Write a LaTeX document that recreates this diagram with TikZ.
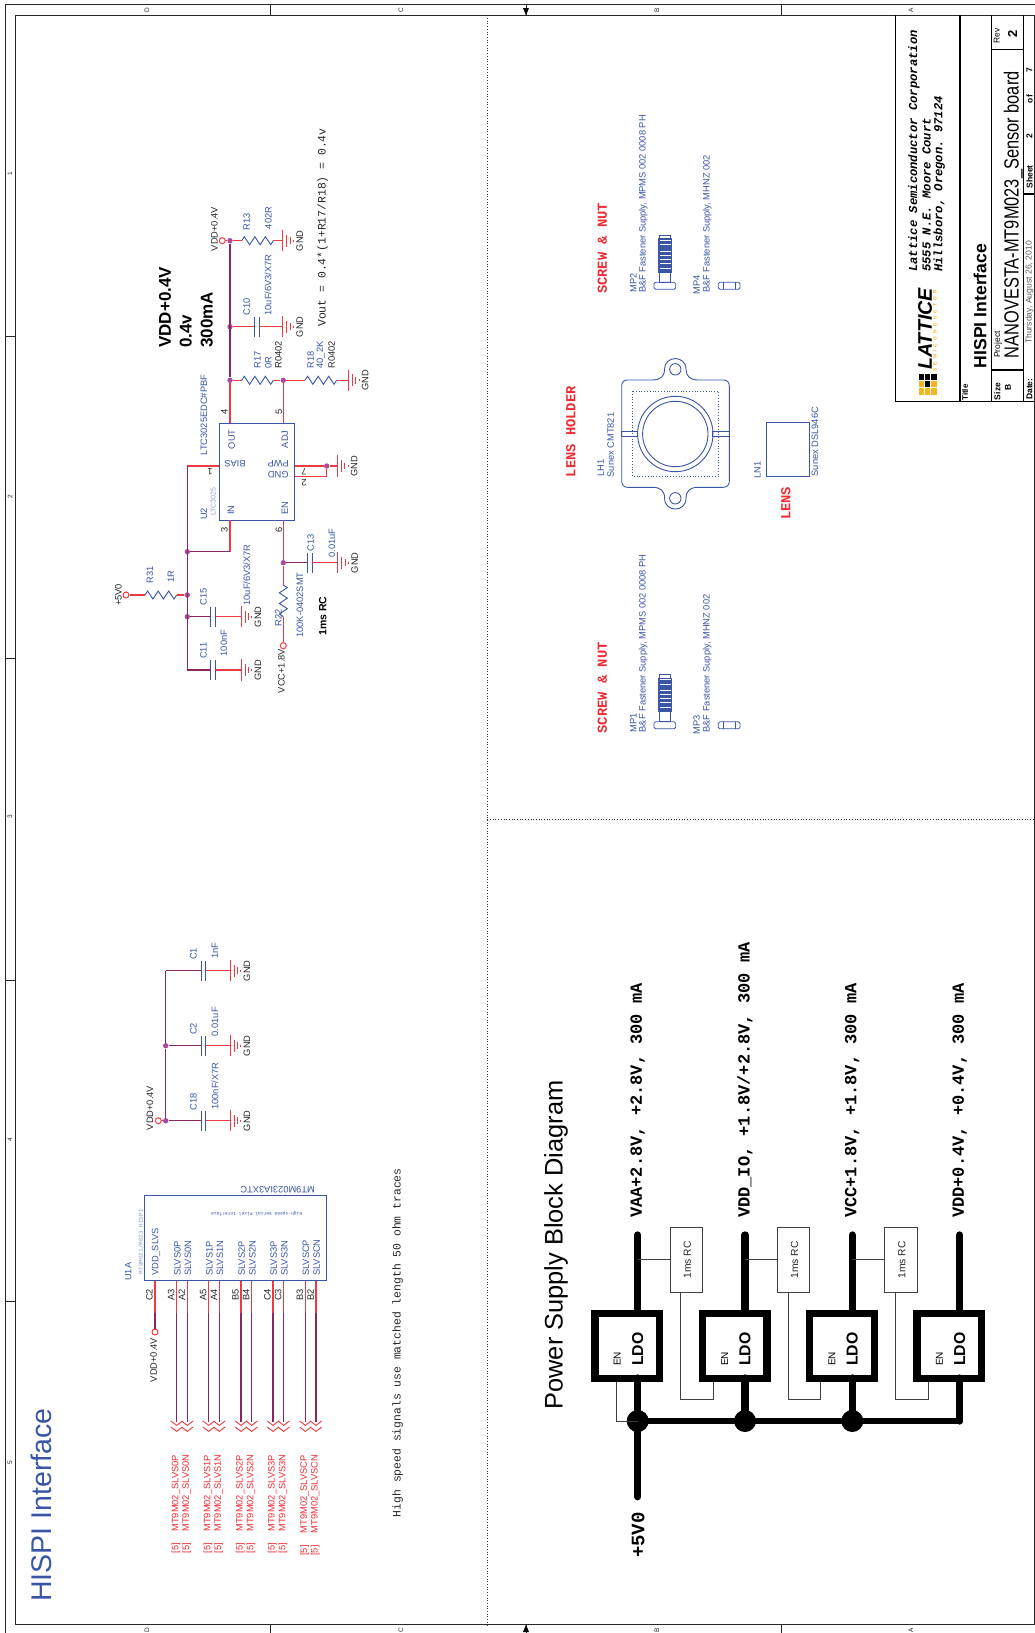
\documentclass[tikz,border=0pt]{standalone}
\usepackage{xcolor}
\usepackage{fontspec}
\usepackage{tikz}
\usetikzlibrary{shapes,arrows,positioning}
\setmainfont{Liberation Sans}
\setmonofont{Liberation Mono}
\newcommand{\fsz}[1]{\fontsize{#1}{#1}\selectfont}
\definecolor{compblue}{HTML}{3A55A5}
\definecolor{wirered}{HTML}{EE3A43}
\definecolor{buspurple}{HTML}{86275F}
\definecolor{dotpurple}{HTML}{AC4A9B}
\definecolor{textred}{HTML}{EE2A32}
\definecolor{lightblue}{HTML}{8F9FCF}
\definecolor{logoyellow}{HTML}{F6B51E}

\begin{document}
\begin{tikzpicture}[x=1pt, y=-1pt, >=stealth]
    % Define styles
    \tikzstyle{lbl} = [rotate=90, inner sep=0pt, text=black!85, font=\fsz{9.3}]
    \tikzstyle{bluelbl} = [lbl, text=compblue]
    \tikzstyle{flipped} = [rotate=180, inner sep=0pt, text=compblue, font=\fsz{9.3}]
    \tikzstyle{redlbl} = [lbl, text=textred]
    \tikzstyle{note} = [lbl, font=\ttfamily\fsz{11.4}]
    \tikzstyle{rednote} = [lbl, text=textred, font=\ttfamily\bfseries\fsz{13.8}]
    \tikzstyle{rail} = [lbl, text=black, font=\ttfamily\bfseries\fsz{17}]
    \tikzstyle{wire} = [draw=wirered, line width=1.1pt]
    \tikzstyle{bus} = [draw=buspurple, line width=1.2pt]
    \tikzstyle{part} = [draw=compblue, line width=1pt]
    \tikzstyle{junc} = [circle, fill=dotpurple, minimum size=5.4pt, inner sep=0pt]
    \tikzstyle{port} = [circle, draw=wirered, line width=1pt, fill=white, minimum size=6pt, inner sep=0pt]
    \tikzstyle{compbox} = [rectangle, draw=compblue, line width=1pt, inner sep=0pt]
    \tikzstyle{frameline} = [draw=black!85, line width=1pt]
    \tikzstyle{blockline} = [draw=black, line width=1.2pt]
    \tikzstyle{address} = [lbl, anchor=west, text=black, font=\ttfamily\bfseries\itshape\fsz{12.2}]
    \tikzstyle{ldobox} = [rectangle, draw, line width=7.3pt, minimum size=64.7pt, inner sep=0pt]
    \tikzstyle{rcbox} = [rectangle, draw=black!75, line width=0.8pt, minimum width=32.3pt, minimum height=65pt, inner sep=0pt]
    \tikzstyle{thick rail} = [draw, line width=7.3pt, line cap=round]
    \tikzstyle{signal} = [draw=black!75, line width=0.8pt]
    \tikzstyle{bigdot} = [circle, fill, minimum size=22pt, inner sep=0pt]
    \tikzset{
        gndsym/.pic={
            \coordinate (-a) at (0,0);
            \draw [draw=wirered, line width=1pt] (0,-10.7) -- (0,10.7) (4,-6) -- (4,6) (7.3,-3.3) -- (7.3,3.3) (10.7,-1) -- (10.7,1);
            \node [lbl] (-txt) at (16.9,0) {GND};
        },
        capsym/.pic={
            \coordinate (-a) at (0,0);
            \coordinate (-b) at (4.8,0);
            \draw [part] (0,-10) -- (0,10) (4.8,-10) -- (4.8,10);
        },
        ressym/.pic={
            \coordinate (-a) at (0,0);
            \coordinate (-b) at (31.6,0);
            \draw [draw=compblue, line width=0.9pt] (0,0) -- (2.6,-4) -- (7.9,4) -- (13.2,-4) -- (18.4,4) -- (23.7,-4) -- (29,4) -- (31.6,0);
        },
        chevron/.pic={
            \draw [draw=wirered, line width=0.9pt] (-5.7,0) -- (0,4.4) -- (5.7,0) (-5.7,6) -- (0,10.4) -- (5.7,6);
        }
    }

    % Frame
    \useasboundingbox (0,0) rectangle (1035,1633);
    \draw [frameline] (5,1633) -- (5,4.7) -- (1035,4.7);
    \draw [frameline] (15.5,1624.7) -- (15.5,15.3) -- (1034.3,15.3) -- (1034.3,1624.7) -- cycle;
    \foreach \tx in {270.5,526,781} {
        \draw [frameline] (\tx,4.7) -- (\tx,15.3);
        \draw [frameline] (\tx,1624.7) -- (\tx,1633);
    }
    \foreach \ty in {336,658,980,1301}
        \draw [frameline] (5,\ty) -- (15.5,\ty);
    \fill (526,15.3) -- (523,8) -- (529,8) -- cycle;
    \fill (526,1624.7) -- (523,1632) -- (529,1632) -- cycle;
    \foreach \tx/\tl in {147/D,401/C,657/B,911/A} {
        \node [lbl, font=\fsz{6.5}] (top\tl) at (\tx,10) {\tl};
        \node [lbl, font=\fsz{6.5}] (bot\tl) at (\tx,1630) {\tl};
    }
    \foreach \ty/\tl in {174/1,497/2,817/3,1140/4,1463/5}
        \node [lbl, font=\fsz{6.5}] (side\tl) at (10,\ty) {\tl};
    \draw [draw=black!80, dotted, line width=0.7pt] (487.3,15.3) -- (487.3,1624.7);
    \draw [draw=black!80, dotted, line width=0.7pt] (487.3,819.5) -- (1034.3,819.5);

    % Title block
    \draw [blockline] (895.7,15.3) -- (895.7,401.5) -- (1034.3,401.5);
    \draw [blockline] (960,15.3) -- (960,401.5);
    \draw [blockline] (991.7,15.3) -- (991.7,401.5);
    \draw [blockline] (1023.5,15.3) -- (1023.5,401.5);
    \draw [blockline] (991.7,49.4) -- (1023.5,49.4);
    \draw [blockline] (991.7,370) -- (1023.5,370);
    \draw [blockline] (1023.5,194) -- (1034.3,194);
    \foreach \cx/\cy/\cc in {0/0/black,1/0/black,2/0/black,0/1/logoyellow,1/1/black,2/1/logoyellow,0/2/logoyellow,1/2/logoyellow,2/2/logoyellow}
        \fill [\cc] (919+6.2*\cx,373.5+7.4*\cy) rectangle +(5.2,6.4);
    \node [lbl, anchor=west, text=black, font=\bfseries\itshape\fsz{19.7}] (logoname) at (925,370) {LATTICE};
    \node [lbl, anchor=west, text=logoyellow, font=\bfseries\fsz{4.8}\addfontfeatures{LetterSpace=68}] (logosub) at (935,372) {SEMICONDUCTOR};
    \node [address] (addr1) at (914,272) {Lattice Semiconductor Corporation};
    \node [address] (addr2) at (926.7,272) {5555 N.E. Moore Court};
    \node [address] (addr3) at (939.3,272) {Hillsboro, Oregon. 97124};
    \node [lbl, text=black, font=\bfseries\fsz{8}] (titlehd) at (965,392.5) {Title};
    \node [lbl, anchor=west, text=black, font=\bfseries\fsz{17.6}] (titletxt) at (980,368.3) {HISPI Interface};
    \node [lbl, text=black, font=\bfseries\fsz{8.5}] (sizehd) at (997.3,391.5) {Size};
    \node [lbl, text=black, font=\bfseries\fsz{8.5}] (sizeval) at (1008,387) {B};
    \node [lbl, anchor=west, text=black, font=\fsz{8.5}] (projhd) at (998,358) {Project};
    \node [lbl, anchor=west, text=black, xscale=0.8, font=\fsz{20.5}] (projtxt) at (1013.3,358.3) {NANOVESTA-MT9M023\_Sensor board};
    \node [lbl, text=black, font=\fsz{8.5}] (revhd) at (996.7,36) {Rev};
    \node [lbl, text=black, font=\bfseries\fsz{13}] (revval) at (1012.5,34) {2};
    \node [lbl, anchor=west, text=black, font=\bfseries\fsz{8.5}] (datehd) at (1029.5,400) {Date:};
    \node [lbl, text=black!65, font=\fsz{8.6}] (datetxt) at (1029.5,292.5) {Thursday, August 26, 2010};
    \node [lbl, text=black, font=\bfseries\fsz{8.5}] (sheethd) at (1029.5,177) {Sheet};
    \node [lbl, text=black, font=\bfseries\fsz{8.5}] (sheetnum) at (1029.5,136) {2};
    \node [lbl, text=black, font=\bfseries\fsz{8.5}] (sheetof) at (1029.5,99) {of};
    \node [lbl, text=black, font=\bfseries\fsz{8.5}] (sheetmax) at (1029.5,70) {7};

    % Headings
    \node [lbl, text=compblue, font=\fsz{28.5}] (sheettitle) at (41.6,1505) {HISPI Interface};
    \node [lbl, text=black, font=\fsz{25.4}] (blocktitle) at (556,1245) {Power Supply Block Diagram};
    \node [note] (voutnote) at (322.7,227.5) {Vout = 0.4*(1+R17/R18) = 0.4v};
    \node [note] (tracenote) at (397.7,1342.7) {High speed signals use matched length 50 ohm traces};
    \node [lbl, anchor=west, text=black, font=\bfseries\fsz{17}] (railname) at (165,348) {VDD+0.4V};
    \node [lbl, anchor=west, text=black, font=\bfseries\fsz{17}] (railvolt) at (185.7,348) {0.4v};
    \node [lbl, anchor=west, text=black, font=\bfseries\fsz{17}] (railamp) at (206.7,348) {300mA};
    \node [lbl, text=black, font=\bfseries\fsz{10.5}] (rcnote) at (322.7,616) {1ms RC};

    % U2 regulator
    \node [compbox, minimum width=75.4pt, minimum height=96.7pt] (u2) at (257,471.7) {};
    \coordinate (u2out) at (230,423.3);
    \coordinate (u2adj) at (283.3,423.3);
    \coordinate (u2in) at (230,520);
    \coordinate (u2en) at (283.3,520);
    \coordinate (u2bias) at (219.3,466);
    \coordinate (u2pwp) at (294.7,466);
    \coordinate (u2gnd) at (294.7,476.7);
    \coordinate (biasbus) at (187.3,466);
    \coordinate (c11bus) at (187.3,670);
    \coordinate (incorner) at (230,551.7);
    \coordinate (gndcorner) at (326.7,476.7);
    \node [junc] (vddj) at (230,240.7) {};
    \node [junc] (c10j) at (230,326.7) {};
    \node [junc] (r17j) at (230,380.3) {};
    \node [junc] (adjj) at (283.3,380.3) {};
    \node [junc] (pwpj) at (326.7,466) {};
    \node [junc] (inj) at (187.3,551.7) {};
    \node [junc] (r31j) at (187.3,595) {};
    \node [junc] (c15j) at (187.3,616.7) {};
    \node [junc] (enj) at (283.3,562.7) {};
    \node [port] (vddport) at (222.3,240.7) {};
    \node [port] (v5port) at (126,595) {};
    \node [port] (vccport) at (283.3,645.7) {};

    \pic (r13) at (241.7,240.7) {ressym};
    \pic (g13) at (282.7,240.7) {gndsym};
    \pic (c10) at (254.3,326.7) {capsym};
    \pic (g10) at (282.7,326.7) {gndsym};
    \pic (r17) at (241.7,380.3) {ressym};
    \pic (r18) at (305,380.3) {ressym};
    \pic (g18) at (348.3,380.3) {gndsym};
    \pic (g2) at (337.3,466) {gndsym};
    \pic (r31) at (145,595) {ressym};
    \pic (c15) at (210.7,616.7) {capsym};
    \pic (g15) at (241,616.7) {gndsym};
    \pic (c11) at (210.7,670) {capsym};
    \pic (g11) at (241,670) {gndsym};
    \pic (c13) at (307.5,562.7) {capsym};
    \pic (g13b) at (337.7,562.7) {gndsym};
    \pic [rotate=-90] (r22) at (283.3,585) {ressym};

    % Wires
    \draw [wire] (vddport) -- (vddj) -- (r13-a);
    \draw [wire] (r13-b) -- (g13-a);
    \draw [wire] (c10j) -- (c10-a);
    \draw [wire] (c10-b) -- (g10-a);
    \draw [wire] (r17j) -- (r17-a);
    \draw [wire] (r17-b) -- (adjj) -- (r18-a);
    \draw [wire] (r18-b) -- (g18-a);
    \draw [wire] (r17j) -- (u2out);
    \draw [wire] (adjj) -- (u2adj);
    \draw [bus] (vddj) -- (r17j);
    \draw [wire] (u2bias) -- (biasbus);
    \draw [bus] (biasbus) -- (c11bus);
    \draw [wire] (u2in) -- (incorner);
    \draw [bus] (incorner) -- (inj);
    \draw [wire] (u2pwp) -- (pwpj) -- (g2-a);
    \draw [wire] (u2gnd) -- (gndcorner) -- (pwpj);
    \draw [wire] (v5port) -- (r31-a);
    \draw [wire] (r31-b) -- (r31j);
    \draw [bus] (c15j) -- (c15-a);
    \draw [wire] (c15-b) -- (g15-a);
    \draw [bus] (c11bus) -- (c11-a);
    \draw [wire] (c11-b) -- (g11-a);
    \draw [wire] (u2en) -- (enj) -- (r22-a);
    \draw [bus] (enj) -- (c13-a);
    \draw [wire] (c13-b) -- (g13b-a);
    \draw [wire] (r22-b) -- (vccport);

    % U2 labels
    \foreach \lx/\ly/\lt/\ln in {246.7/221.7/R13/n1,268.3/218/402R/n2,246.7/306.7/C10/n3,268/285/10uF{/}6V3{/}X7R/n4,257.3/360/R17/n5,268.3/363/0R/n6,310.7/360/R18/n7,320.7/355/40\_2K/n8,204/514/U2/n9,204/415/LTC3025EDC\#PBF/n10,231.7/439.3/OUT/n11,231/510/IN/n12,285/439.3/ADJ/n13,285/508/EN/n14,150/575/R31/n15,171/576.7/1R/n16,203.3/596.7/C15/n17,246.7/575/10uF{/}6V3{/}X7R/n18,203.3/650.7/C11/n19,224/643/100nF/n20,310.7/543/C13/n21,332/543/0.01uF/n22,300/605/100K-0402SMT/n23,278.3/618/R22/n24}
        \node [bluelbl] (\ln) at (\lx,\ly) {\lt};
    \foreach \lx/\ly/\lt/\ln in {278.3/355/R0402/m1,331.7/355/R0402/m2,224.3/411.7/4/m3,279/411.7/5/m4,224.3/530/3/m5,279/530/6/m6,214.3/229/VDD+0.4V/m7,118.3/595/+5V0/m8,281.5/671/VCC+1.8V/m9}
        \node [lbl] (\ln) at (\lx,\ly) {\lt};
    \node [lbl, text=lightblue, font=\fsz{7}] (u2part) at (213.3,501.7) {LTC3025};
    \node [flipped] (biaspin) at (235,464) {BIAS};
    \node [flipped] (pwppin) at (278.3,464) {PWP};
    \node [flipped] (gndpin) at (278.3,475) {GND};
    \node [flipped, text=black!85] (pin1) at (210,471.7) {1};
    \node [flipped, text=black!85] (pin7) at (304,471.7) {7};
    \node [flipped, text=black!85] (pin2) at (304,483) {2};

    % VDD decoupling
    \node [port] (cport) at (158.3,1120.7) {};
    \coordinate (c1bus) at (165.7,970.7);
    \node [junc] (c2j) at (165.7,1045.7) {};
    \node [junc] (c18j) at (165.7,1120.7) {};
    \draw [bus] (c1bus) -- (c2j) -- (c18j);
    \draw [wire] (cport) -- (c18j);
    \node [lbl] (cportname) at (150,1108) {VDD+0.4V};
    \foreach \cn/\cy/\cbus/\cv/\cly/\cvy in {c1/970.7/c1bus/1nF/954/950.7,c2/1045.7/c2j/0.01uF/1029/1021.7,c18/1120.7/c18j/100nF{/}X7R/1101.7/1086} {
        \pic (\cn) at (201,\cy) {capsym};
        \pic (gnd\cn) at (230,\cy) {gndsym};
        \draw [bus] (\cbus) -- (\cn-a);
        \draw [wire] (\cn-b) -- (gnd\cn-a);
        \node [bluelbl] (\cn name) at (193.3,\cly) {\MakeUppercase{\cn}};
        \node [bluelbl] (\cn val) at (215,\cvy) {\cv};
    }

    % U1A sensor
    \node [compbox, minimum width=182.4pt, minimum height=85.3pt] (u1) at (235.5,1238.3) {};
    \node [flipped] (u1part) at (277.7,1190) {MT9M023IA3XTC};
    \node [lbl, text=lightblue, font=\ttfamily\fsz{6}] (u1lib) at (140.7,1241.7) {MT9M021/M023 HISPI};
    \node [flipped, font=\ttfamily\fsz{4.6}] (u1desc) at (256.7,1214) {High-speed Serial Pixel Interface};
    \node [bluelbl] (u1ref) at (128.3,1271.7) {U1A};
    \coordinate (vslvs) at (155,1281);
    \coordinate (vslvsb) at (155,1313);
    \node [port] (vslvsport) at (155,1332) {};
    \draw [wire] (vslvs) -- (vslvsb);
    \draw [bus] (vslvsb) -- (vslvsport);
    \node [bluelbl, anchor=west] (vslvsname) at (156,1276) {VDD\_SLVS};
    \node [lbl] (vslvspin) at (149.5,1295) {C2};
    \node [lbl] (vslvsnet) at (153.7,1360) {VDD+0.4V};
    \foreach \px/\pnum/\pname/\nb/\bb in {176.7/A3/SLVS0P/1531.7/1548,187.3/A2/SLVS0N/1531.7/1548,208.7/A5/SLVS1P/1531.7/1548,219.3/A4/SLVS1N/1531.7/1548,241/B5/SLVS2P/1531.7/1548,251.7/B4/SLVS2N/1531.7/1548,273/C4/SLVS3P/1531.7/1548,283.7/C3/SLVS3N/1531.7/1548,305.3/B3/SLVSCP/1533.5/1550.5,316/B2/SLVSCN/1533.5/1550.5} {
        \coordinate (\pname a) at (\px,1281);
        \coordinate (\pname b) at (\px,1313);
        \coordinate (\pname c) at (\px,1421.7);
        \draw [wire] (\pname a) -- (\pname b);
        \draw [bus] (\pname b) -- (\pname c);
        \pic at (\px,1421) {chevron};
        \node [bluelbl, anchor=west] (\pname t) at (\px+0.7,1276) {\pname};
        \node [lbl] (\pname n) at (\px-5.5,1295) {\pnum};
        \node [redlbl, anchor=west] (\pname x) at (\px-0.7,\nb) {MT9M02\_\pname};
        \node [redlbl] (\pname s) at (\px-0.7,\bb) {[5]};
    }

    % Power supply block diagram
    \foreach \k/\lx/\px/\txt in {1/627.3/637.7/{VAA+2.8V, +2.8V, 300 mA},2/734.7/745/{VDD\_IO, +1.8V/+2.8V, 300 mA},3/842/852.3/{VCC+1.8V, +1.8V, 300 mA},4/949.3/959.7/{VDD+0.4V, +0.4V, 300 mA}} {
        \node [ldobox] (ldo\k) at (\lx,1345.8) {};
        \node [lbl, text=black, font=\bfseries\fsz{15.8}] (ldoname\k) at (\px,1349) {LDO};
        \node [lbl, text=black, font=\fsz{10}] (ldoen\k) at (\lx-10,1359) {EN};
        \coordinate (top\k) at (\px,1235);
        \coordinate (boxtop\k) at (\px,1313);
        \coordinate (boxbot\k) at (\px,1378);
        \coordinate (inbus\k) at (\px,1421);
        \draw [thick rail] (top\k) -- (boxtop\k);
        \draw [thick rail] (boxbot\k) -- (inbus\k);
        \node [rail, anchor=west] (railtxt\k) at (\px,1218) {\txt};
    }
    \draw [thick rail, line width=6.6pt] (inbus1) -- (inbus2) -- (inbus3) -- (inbus4);
    \foreach \k in {1,2,3}
        \node [bigdot] (dot\k) at (inbus\k) {};
    \coordinate (supply) at (637.7,1496.7);
    \draw [thick rail] (inbus1) -- (supply);
    \node [rail, font=\ttfamily\bfseries\fsz{19}] (supplytxt) at (638,1535) {+5V0};
    \coordinate (en1a) at (616.7,1381.7);
    \coordinate (en1b) at (616.7,1421);
    \draw [signal] (en1a) -- (en1b) -- (inbus1);
    \foreach \k/\n/\rx in {1/2/686.2,2/3/793.5,3/4/900.8} {
        \node [rcbox] (rc\k) at (\rx,1259.8) {};
        \node [lbl, text=black!85, font=\fsz{10.3}] (rctxt\k) at (\rx+1,1260) {1ms RC};
        \draw [signal] (top\k |- rc\k.west) -- (rc\k.west);
        \coordinate (rcout\k) at (\rx-5.5,1292.3);
        \coordinate (rcdown\k) at (\rx-5.5,1399.3);
        \coordinate (rcright\k) at (\rx+27.1,1399.3);
        \coordinate (enin\k) at (\rx+27.1,1381.7);
        \draw [signal] (rcout\k) -- (rcdown\k) -- (rcright\k) -- (enin\k);
    }

    % Lens holder
    \node [rednote] (holdernote) at (570.7,431.7) {LENS HOLDER};
    \node [lbl, text=compblue] (lh1name) at (600.7,468) {LH1};
    \node [bluelbl] (lh1part) at (610.7,445) {Sunex CMT821};
    \draw [part, line width=0.9pt] (627.7,380) -- (652,380) .. controls (661,380) and (664.6,376) .. (664.6,369.3)
        .. controls (664.6,355) and (686,355) .. (686,369.3) .. controls (686,376) and (690,380) .. (698,380)
        -- (723.3,380) .. controls (727,380) and (729.3,382) .. (729.3,386) -- (729.3,481.3)
        .. controls (729.3,485) and (727,487.3) .. (723.3,487.3) -- (698,487.3) .. controls (690,487.3) and (686,491) .. (686,498.3)
        .. controls (686,512.6) and (664.6,512.6) .. (664.6,498.3) .. controls (664.6,491) and (661,487.3) .. (652,487.3)
        -- (627.7,487.3) .. controls (624,487.3) and (621.7,485) .. (621.7,481.3) -- (621.7,386)
        .. controls (621.7,382) and (624,380) .. (627.7,380) -- cycle;
    \node [circle, draw=compblue, line width=0.9pt, minimum size=11.4pt, inner sep=0pt] (lughole1) at (675.3,369.3) {};
    \node [circle, draw=compblue, line width=0.9pt, minimum size=11.4pt, inner sep=0pt] (lughole2) at (675.3,498.3) {};
    \draw [draw=compblue, dotted, line width=0.8pt] (632.7,391) rectangle (718.3,476.7);
    \node [circle, draw=compblue, line width=0.9pt, minimum size=75.4pt, inner sep=0pt] (barrel1) at (675.3,434) {};
    \node [circle, draw=compblue, line width=0.9pt, minimum size=65.4pt, inner sep=0pt] (barrel2) at (675.3,434) {};
    \draw [part, line width=0.9pt] (621.7,431) rectangle (637.7,436.3);
    \draw [part, line width=0.9pt] (712.7,431) rectangle (729.3,436.3);

    % Lens
    \node [compbox, minimum width=42.6pt, minimum height=53.7pt] (ln1) at (788,449.8) {};
    \node [lbl, text=compblue] (ln1name) at (757.3,470) {LN1};
    \node [bluelbl] (ln1part) at (815,441.7) {Sunex DSL946C};
    \node [rednote] (lensnote) at (785.7,503.3) {LENS};

    % Screws and nuts
    \foreach \dy/\sa/\sb/\sc/\sd in {0/MP2/MP4/a/b,439.5/MP1/MP3/c/d} {
        \node [rednote] (screwnote\sa) at (602.3,248.3+\dy) {SCREW \& NUT};
        \node [bluelbl] (\sa name) at (633.3,283+\dy) {\sa};
        \node [bluelbl] (\sa part) at (643.3,204+\dy) {B\&F Fastener Supply, MPMS 002 0008 PH};
        \node [bluelbl] (\sb name) at (696.7,285+\dy) {\sb};
        \node [bluelbl] (\sb part) at (707.3,224+\dy) {B\&F Fastener Supply, MHNZ 002};
        \draw [part, line width=0.8pt, rounded corners=1.5pt] (654,282.3+\dy) rectangle (675.7,289.3+\dy);
        \draw [part, line width=0.8pt] (659.3,235+\dy) rectangle (670.7,282.3+\dy);
        \fill [compblue] (658.3,238+\dy) rectangle (671.7,272.7+\dy);
        \foreach \ty in {240,244.5,251,255,259,263,268}
            \draw [draw=white, line width=0.7pt] (659.5,\ty+\dy) -- (670.5,\ty+\dy);
        \draw [part, line width=0.8pt, rounded corners=1.5pt] (718.3,282.3+\dy) rectangle (740,289.3+\dy);
        \draw [part, line width=0.8pt] (723.3,282.3+\dy) -- (723.3,289.3+\dy);
        \draw [part, line width=0.8pt] (735,282.3+\dy) -- (735,289.3+\dy);
    }
\end{tikzpicture}
\end{document}
